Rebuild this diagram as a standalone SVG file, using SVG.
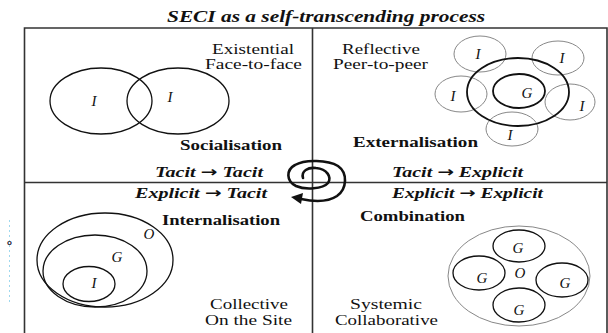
<svg xmlns="http://www.w3.org/2000/svg" width="608" height="333" viewBox="0 0 608 333">
  <style>
    .frame { fill: none; stroke: #333; stroke-width: 1.6; }
    .ring { fill: none; stroke: #111; stroke-width: 1.3; }
    .ring-strong { fill: none; stroke: #111; stroke-width: 1.8; }
    .ring-light { fill: none; stroke: #888; stroke-width: 1; }
    .title { font-family: "Liberation Serif", serif; font-weight: bold; font-style: italic; font-size: 16px; fill: #111; }
    .mode { font-family: "Liberation Serif", serif; font-weight: bold; font-size: 14.5px; fill: #111; }
    .flow { font-family: "Liberation Serif", serif; font-weight: bold; font-style: italic; font-size: 14.5px; fill: #111; }
    .arr { font-family: "DejaVu Sans", sans-serif; font-style: normal; font-weight: bold; }
    .note { font-family: "Liberation Serif", serif; font-size: 15px; fill: #111; }
    .sym { font-family: "Liberation Serif", serif; font-style: italic; font-size: 15px; fill: #111; text-anchor: middle; }
    .spiral { fill: none; stroke: #111; stroke-width: 2.6; stroke-linecap: round; }
  </style>

  <!-- title -->
  <text class="title" x="167" y="22" textLength="318" lengthAdjust="spacingAndGlyphs">SECI as a self-transcending process</text>

  <!-- frame and quadrant dividers -->
  <g id="frame">
    <path class="frame" d="M24.5 340 V28 H607 V340"/>
    <line class="frame" x1="312.5" y1="28" x2="312.5" y2="340"/>
    <line class="frame" x1="24.5" y1="182.5" x2="607" y2="182.5"/>
  </g>

  <!-- small margin mark -->
  <g id="margin-mark">
    <line x1="9.5" y1="220" x2="9.5" y2="302" stroke="#9fd8ee" stroke-width="1" stroke-dasharray="2 3"/>
    <text x="7" y="245" font-family="Liberation Sans, sans-serif" font-size="8" font-weight="bold" fill="#223">o</text>
  </g>

  <!-- Socialisation quadrant -->
  <g id="socialisation">
    <ellipse class="ring" cx="101" cy="101" rx="51" ry="33"/>
    <ellipse class="ring" cx="178" cy="101" rx="51" ry="33"/>
    <text class="sym" x="94" y="106">I</text>
    <text class="sym" x="170" y="102">I</text>
    <text class="note" x="212" y="54" textLength="82" lengthAdjust="spacingAndGlyphs">Existential</text>
    <text class="note" x="205" y="69" textLength="97" lengthAdjust="spacingAndGlyphs">Face-to-face</text>
    <text class="mode" x="180" y="150" textLength="102" lengthAdjust="spacingAndGlyphs">Socialisation</text>
    <text class="flow" x="155" y="177" textLength="108" lengthAdjust="spacingAndGlyphs">Tacit <tspan class="arr">→</tspan> Tacit</text>
  </g>

  <!-- Externalisation quadrant -->
  <g id="externalisation">
    <ellipse class="ring-light" cx="480" cy="54" rx="26" ry="18"/>
    <ellipse class="ring-light" cx="558" cy="58" rx="26" ry="17"/>
    <ellipse class="ring-light" cx="461" cy="94" rx="26" ry="18"/>
    <ellipse class="ring-light" cx="570" cy="102" rx="25" ry="18"/>
    <ellipse class="ring-light" cx="512" cy="129" rx="26" ry="17"/>
    <ellipse class="ring-strong" cx="518" cy="92" rx="51" ry="34"/>
    <ellipse class="ring-strong" cx="519" cy="91" rx="26" ry="17"/>
    <text class="sym" x="478" y="59">I</text>
    <text class="sym" x="562" y="63">I</text>
    <text class="sym" x="453" y="101">I</text>
    <text class="sym" x="582" y="111">I</text>
    <text class="sym" x="510" y="140">I</text>
    <text class="sym" x="527" y="98">G</text>
    <text class="note" x="342" y="54" textLength="78" lengthAdjust="spacingAndGlyphs">Reflective</text>
    <text class="note" x="333" y="69" textLength="95" lengthAdjust="spacingAndGlyphs">Peer-to-peer</text>
    <text class="mode" x="353" y="147" textLength="125" lengthAdjust="spacingAndGlyphs">Externalisation</text>
    <text class="flow" x="392" y="177" textLength="131" lengthAdjust="spacingAndGlyphs">Tacit <tspan class="arr">→</tspan> Explicit</text>
  </g>

  <!-- Internalisation quadrant -->
  <g id="internalisation">
    <ellipse class="ring" cx="105" cy="260" rx="68" ry="47"/>
    <ellipse class="ring" cx="95" cy="271" rx="52" ry="36"/>
    <ellipse class="ring" cx="89" cy="284" rx="26" ry="17.5"/>
    <text class="sym" x="149" y="239">O</text>
    <text class="sym" x="117" y="262">G</text>
    <text class="sym" x="94" y="288">I</text>
    <text class="flow" x="135" y="198" textLength="132" lengthAdjust="spacingAndGlyphs">Explicit <tspan class="arr">→</tspan> Tacit</text>
    <text class="mode" x="162" y="225" textLength="118" lengthAdjust="spacingAndGlyphs">Internalisation</text>
    <text class="note" x="210" y="309" textLength="78" lengthAdjust="spacingAndGlyphs">Collective</text>
    <text class="note" x="205" y="325" textLength="87" lengthAdjust="spacingAndGlyphs">On the Site</text>
  </g>

  <!-- Combination quadrant -->
  <g id="combination">
    <ellipse class="ring-light" cx="519" cy="276" rx="71" ry="50"/>
    <ellipse class="ring" cx="519" cy="246" rx="26" ry="16"/>
    <ellipse class="ring" cx="479" cy="273" rx="26" ry="17"/>
    <ellipse class="ring" cx="562" cy="280" rx="26" ry="17"/>
    <ellipse class="ring" cx="519" cy="305" rx="26" ry="17"/>
    <text class="sym" x="518" y="253">G</text>
    <text class="sym" x="482" y="283">G</text>
    <text class="sym" x="565" y="288">G</text>
    <text class="sym" x="519" y="315">G</text>
    <text class="sym" x="520" y="278">O</text>
    <text class="flow" x="392" y="198" textLength="151" lengthAdjust="spacingAndGlyphs">Explicit <tspan class="arr">→</tspan> Explicit</text>
    <text class="mode" x="360" y="221" textLength="105" lengthAdjust="spacingAndGlyphs">Combination</text>
    <text class="note" x="350" y="309" textLength="72" lengthAdjust="spacingAndGlyphs">Systemic</text>
    <text class="note" x="335" y="325" textLength="103" lengthAdjust="spacingAndGlyphs">Collaborative</text>
  </g>

  <!-- central knowledge spiral -->
  <g id="connectors">
    <path class="spiral" d="M303 178 C301 171 308 167 316 168 C327 169 332 177 328 183 C323 189 305 190 296 186 C286 181 286 170 295 165 C305 159 328 160 338 166 C348 173 347 189 337 196 C328 202 315 202 301 199"/>
    <polygon points="291,197 303,193 301,204" fill="#111"/>
  </g>
</svg>
